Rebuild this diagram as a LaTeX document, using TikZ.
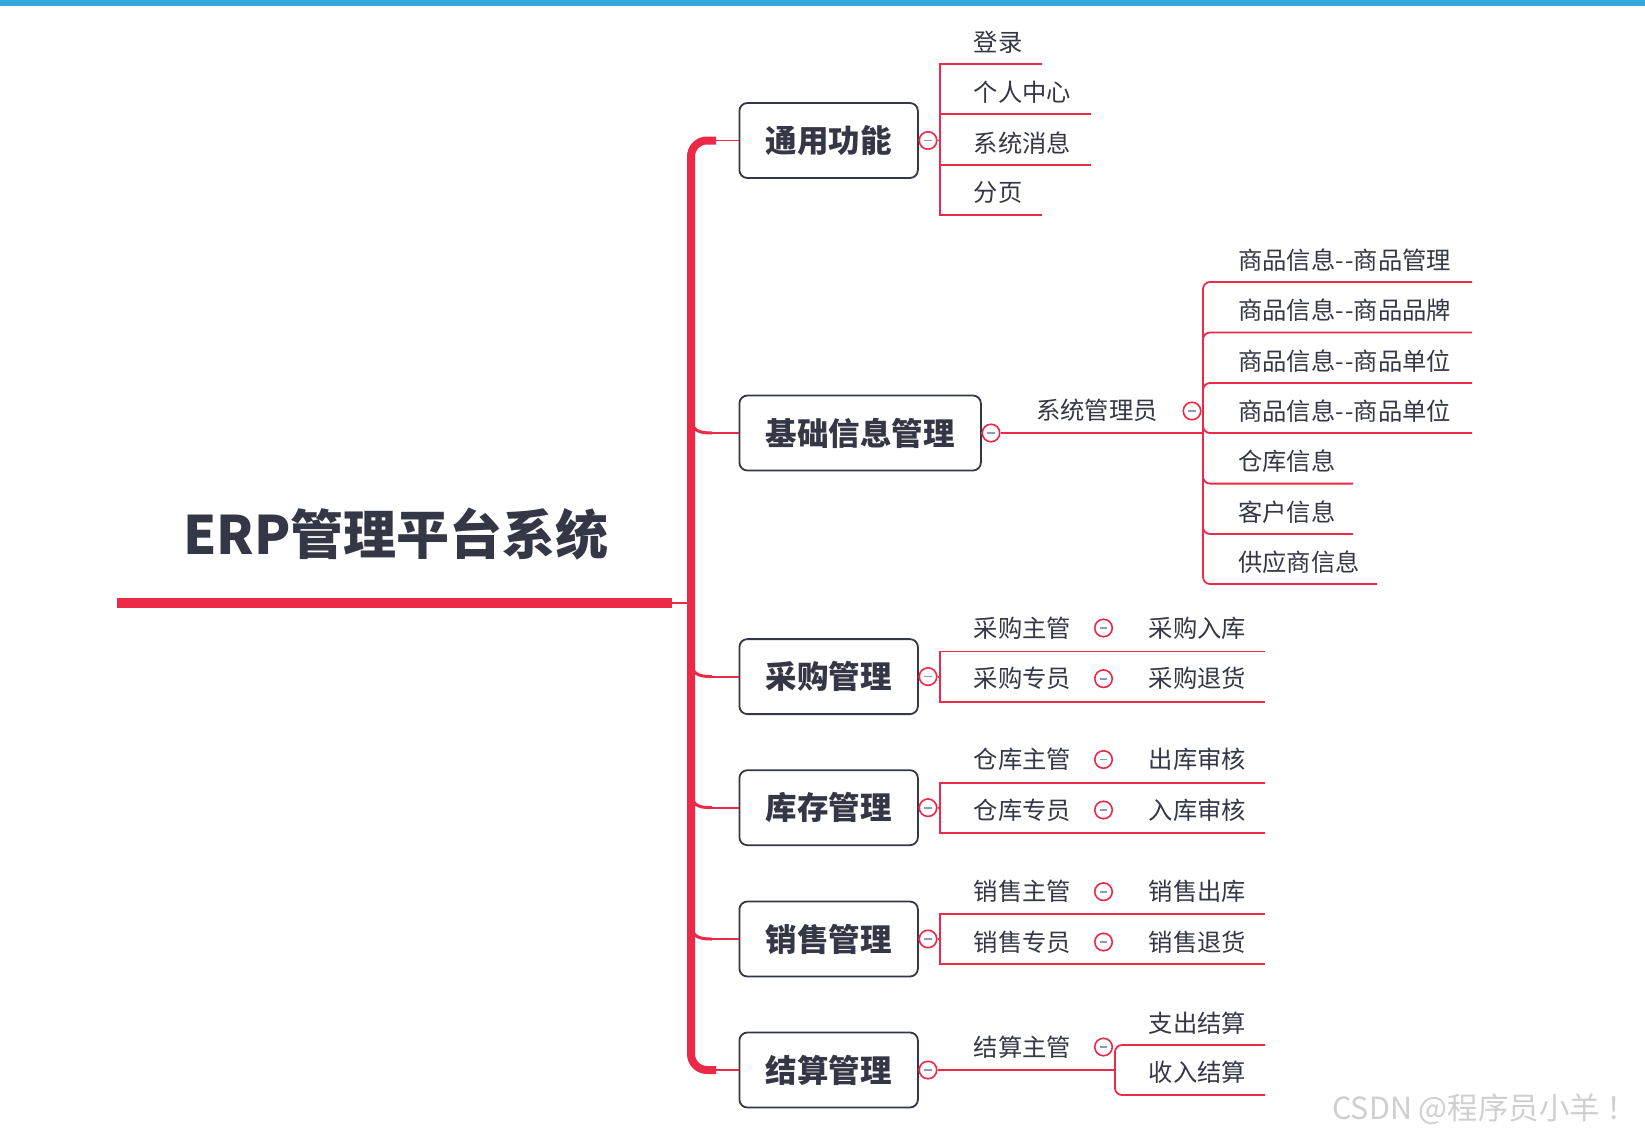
\documentclass[tikz,border=0pt]{standalone}
\usepackage{fontspec}
\newfontfamily\cjk{Noto Sans CJK SC}
\usetikzlibrary{calc}
\definecolor{mmred}{HTML}{EC2947}
\definecolor{mmtext}{HTML}{343745}
\definecolor{mmblue}{HTML}{35A7DC}
\definecolor{mmminus}{HTML}{8E98B8}
\definecolor{wmgray}{HTML}{CFCFCF}
\newcommand{\dd}{-\kern1.5pt-}
\begin{document}
\begin{tikzpicture}[x=1pt,y=-1pt,
  every node/.style={text=mmtext, inner sep=0pt},
  roottext/.style={font=\cjk\bfseries\fontsize{53}{60}\selectfont},
  topic/.style={draw=mmtext, line width=1.8pt, rounded corners=8pt, fill=white,
     minimum height=75pt, anchor=west, font=\cjk\bfseries\fontsize{31.5}{36}\selectfont},
  leaf/.style={anchor=west, font=\cjk\fontsize{24.3}{28}\selectfont},
  fold/.style={circle, draw=mmred, fill=white, line width=1.6pt, minimum size=17.5pt, inner sep=0pt,
     path picture={\draw[mmminus, line width=1.7pt] ([xshift=-3.8pt]path picture bounding box.center) -- ([xshift=3.8pt]path picture bounding box.center);}},
  link/.style={draw=mmred, line width=1.8pt},
  trunk/.style={draw=mmred, line width=8pt},
  flare/.style={draw=mmred, line width=3pt},
]
\useasboundingbox (0,0) rectangle (1645,1137);
\fill[white] (0,0) rectangle (1645,1137);
\fill[mmblue] (0,0) rectangle (1645,6);

% root
\node[roottext] (root) at (396,534) {ERP管理平台系统};
\coordinate (rootL) at (117,603);
\coordinate (rootR) at (672,603);
\coordinate (hub) at (691,603);
\draw[mmred, line width=10pt] (rootL) -- (rootR);
\draw[link] (rootR) -- (hub);

% topics
\node[topic, minimum width=178.5pt] (t1) at (738.5,140.5) {通用功能};
\node[topic, minimum width=241.5pt] (t2) at (738.5,433) {基础信息管理};
\node[topic, minimum width=178.5pt] (t3) at (738.5,676.6) {采购管理};
\node[topic, minimum width=178.5pt] (t4) at (738.5,807.7) {库存管理};
\node[topic, minimum width=178.5pt] (t5) at (738.5,939) {销售管理};
\node[topic, minimum width=178.5pt] (t6) at (738.5,1070) {结算管理};

% trunk
\coordinate (k1) at (716,140.5);
\coordinate (k6) at (716,1070);
\draw[trunk, rounded corners=16pt] (k1) -- (691,140.5) -- (691,1070) -- (k6);
\draw[link] (k1) -- (t1.west);
\draw[link] (k6) -- (t6.west);
\foreach \n/\yc in {2/433,3/676.6,4/807.7,5/939}{
  \coordinate (k\n) at (712,\yc);
  \draw[flare] (691,\yc-18) .. controls (691,\yc-3) and (697,\yc) .. (k\n);
  \draw[link] (k\n) -- (t\n.west);
}

% ---- 通用功能
\node[fold] (f1) at (928,140.5) {};
\coordinate (j1) at (940,140.5);
\coordinate (e1a) at (1042,64);
\coordinate (e1b) at (1091,114.3);
\coordinate (e1c) at (1091,164.7);
\coordinate (e1d) at (1042,215);
\draw[link] (t1.east) -- (f1.west);
\draw[link] (f1.east) -- (j1);
\draw[link] (e1a) -- (j1 |- e1a) -- (j1 |- e1d) -- (e1d);
\draw[link] (j1 |- e1b) -- (e1b);
\draw[link] (j1 |- e1c) -- (e1c);
\node[leaf] (l1a) at (973.5,42) {登录};
\node[leaf] (l1b) at (973.5,92.3) {个人中心};
\node[leaf] (l1c) at (973.5,142.7) {系统消息};
\node[leaf] (l1d) at (973.5,193) {分页};

% ---- 基础信息管理
\node[fold] (f2) at (991,433) {};
\draw[link] (t2.east) -- (f2.west);
\node[leaf] (m2) at (1036,410) {系统管理员};
\node[fold] (g2) at (1192,411) {};
\coordinate (j2) at (1203,433);
\draw[link] (f2.east) -- (j2);
\coordinate (e2a) at (1472,282);
\coordinate (e2b) at (1472,332.5);
\coordinate (e2c) at (1472,383);
\coordinate (e2d) at (1472,433);
\coordinate (e2e) at (1353,483.6);
\coordinate (e2f) at (1353,534);
\coordinate (e2g) at (1377,584);
\foreach \c in {e2a,e2b,e2c,e2d,e2e,e2f,e2g}{
  \draw[link, rounded corners=7pt] (j2) -- (j2 |- \c) -- (\c);
}
\node[leaf] (l2a) at (1238,260) {商品信息\dd 商品管理};
\node[leaf] (l2b) at (1238,310.5) {商品信息\dd 商品品牌};
\node[leaf] (l2c) at (1238,361) {商品信息\dd 商品单位};
\node[leaf] (l2d) at (1238,411) {商品信息\dd 商品单位};
\node[leaf] (l2e) at (1238,461.6) {仓库信息};
\node[leaf] (l2f) at (1238,512) {客户信息};
\node[leaf] (l2g) at (1238,562) {供应商信息};

% ---- 采购/库存/销售
\foreach \n/\yc/\ya/\yb/\ta/\tb/\ua/\ub in {
  3/676.6/651.4/701.8/628/678.7/采购主管/采购专员,
  4/807.7/782.6/833/759.5/810/仓库主管/仓库专员,
  5/939/913.7/964/891.7/942/销售主管/销售专员}{
  \node[fold] (f\n) at (928,\yc) {};
  \coordinate (j\n) at (940,\yc);
  \coordinate (e\n a) at (1265,\ya);
  \coordinate (e\n b) at (1265,\yb);
  \draw[link] (t\n.east) -- (f\n.west);
  \draw[link] (f\n.east) -- (j\n);
  \draw[link] (e\n a) -- (j\n |- e\n a) -- (j\n |- e\n b) -- (e\n b);
  \node[leaf] (r\n a) at (973.5,\ta) {\ua};
  \node[fold] (g\n a) at (1103.5,\ta) {};
  \node[leaf] (r\n b) at (973.5,\tb) {\ub};
  \node[fold] (g\n b) at (1103.5,\tb) {};
}
\node[leaf] (s3a) at (1148.6,628) {采购入库};
\node[leaf] (s3b) at (1148.6,678.7) {采购退货};
\node[leaf] (s4a) at (1148.6,759.5) {出库审核};
\node[leaf] (s4b) at (1148.6,810) {入库审核};
\node[leaf] (s5a) at (1148.6,891.7) {销售出库};
\node[leaf] (s5b) at (1148.6,942) {销售退货};

% ---- 结算管理
\node[fold] (f6) at (928,1070) {};
\coordinate (j6) at (1115,1070);
\coordinate (e6a) at (1265,1045);
\coordinate (e6b) at (1265,1095);
\draw[link] (t6.east) -- (f6.west);
\draw[link] (f6.east) -- (j6);
\draw[link, rounded corners=7pt] (j6) -- (j6 |- e6a) -- (e6a);
\draw[link, rounded corners=7pt] (j6) -- (j6 |- e6b) -- (e6b);
\node[leaf] (r6) at (973.5,1047) {结算主管};
\node[fold] (g6) at (1103.5,1047) {};
\node[leaf] (s6a) at (1148.6,1023) {支出结算};
\node[leaf] (s6b) at (1148.6,1072) {收入结算};

% watermark
\node[anchor=west, font=\cjk\fontsize{30.5}{32}\selectfont, text=wmgray] (wm) at (1332,1109) {CSDN @程序员小羊\kern6pt！};
\end{tikzpicture}
\end{document}
